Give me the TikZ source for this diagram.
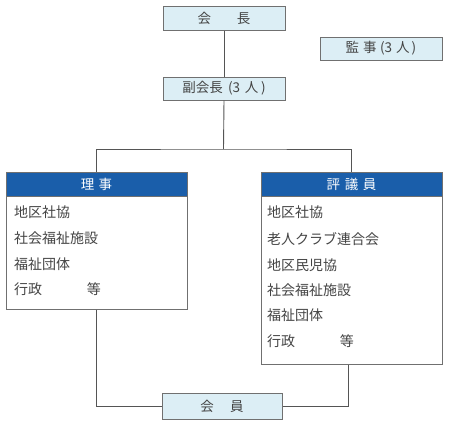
\documentclass[tikz,border=0pt]{standalone}
\usepackage{fontspec}
\setmainfont{Noto Sans CJK JP}
\definecolor{lblue}{HTML}{DCEEF5}
\definecolor{hblue}{HTML}{1A5EAA}
\definecolor{bordergray}{HTML}{707070}
\definecolor{linegray}{HTML}{555555}
\definecolor{txt}{HTML}{444444}
\begin{document}
\begin{tikzpicture}[x=1pt,y=-1pt,
  lbox/.style={draw=bordergray,line width=1pt,fill=lblue,inner sep=0pt,text=txt,font=\fontsize{13.5}{15}\selectfont},
  hdr/.style={draw=bordergray,line width=1pt,fill=hblue,inner sep=0pt,text=white,font=\fontsize{13.5}{15}\selectfont,minimum width=181pt,minimum height=24pt},
  body/.style={draw=bordergray,line width=1pt,fill=white,inner sep=0pt,minimum width=181pt},
  item/.style={anchor=west,inner sep=0pt,text=txt,font=\fontsize{14}{16}\selectfont},
  conn/.style={draw=linegray,line width=0.9pt}]
\useasboundingbox (0,0) rectangle (451,424);
\node[lbox,minimum width=122pt,minimum height=24pt] (kaicho) at (224,18) {会\hspace{1.9em}長};
\node[lbox,minimum width=122pt,minimum height=23pt] (kanji) at (381,48.5) {監\hspace{0.3em}事\hspace{0.25em}(3\hspace{0.3em}人\hspace{0.15em})};
\node[lbox,minimum width=122pt,minimum height=23pt] (fuku) at (224,88.5) {副会長\hspace{0.4em}(3\hspace{0.35em}人\hspace{0.2em})};
% riji
\node[body,minimum height=137pt] (riji) at (96.5,240.5) {};
\node[hdr] (rijih) at (96.5,184) {理\hspace{0.3em}事};
\node[item] (r1) at (14,212) {地区社協};
\node[item] (r2) at (14,238) {社会福祉施設};
\node[item] (r3) at (14,264) {福祉団体};
\node[item] (r4) at (14,289) {行政\hspace{3.2em}等};
% hyogi
\node[body,minimum height=192pt] (hyogi) at (351.5,268) {};
\node[hdr] (hyogih) at (351.5,184) {評\hspace{0.35em}議\hspace{0.35em}員};
\node[item] (h1) at (267,212) {地区社協};
\node[item] (h2) at (267,239) {老人クラブ連合会};
\node[item] (h3) at (267,265) {地区民児協};
\node[item] (h4) at (267,290) {社会福祉施設};
\node[item] (h5) at (267,315) {福祉団体};
\node[item] (h6) at (267,341) {行政\hspace{3.2em}等};
% kaiin
\node[lbox,minimum width=120pt,minimum height=26pt] (kaiin) at (222,406) {会\hspace{1.2em}員};
\coordinate (branch) at (223.5,149);
\draw[conn] (kaicho.south) -- (fuku.north);
\draw[conn] (fuku.south) -- (branch);
\draw[conn] (rijih.north) |- (branch) -| (hyogih.north);
\draw[conn] (riji.south) |- (kaiin.west);
\draw[conn] ([xshift=-3pt]hyogi.south) |- (kaiin.east);
\end{tikzpicture}
\end{document}
